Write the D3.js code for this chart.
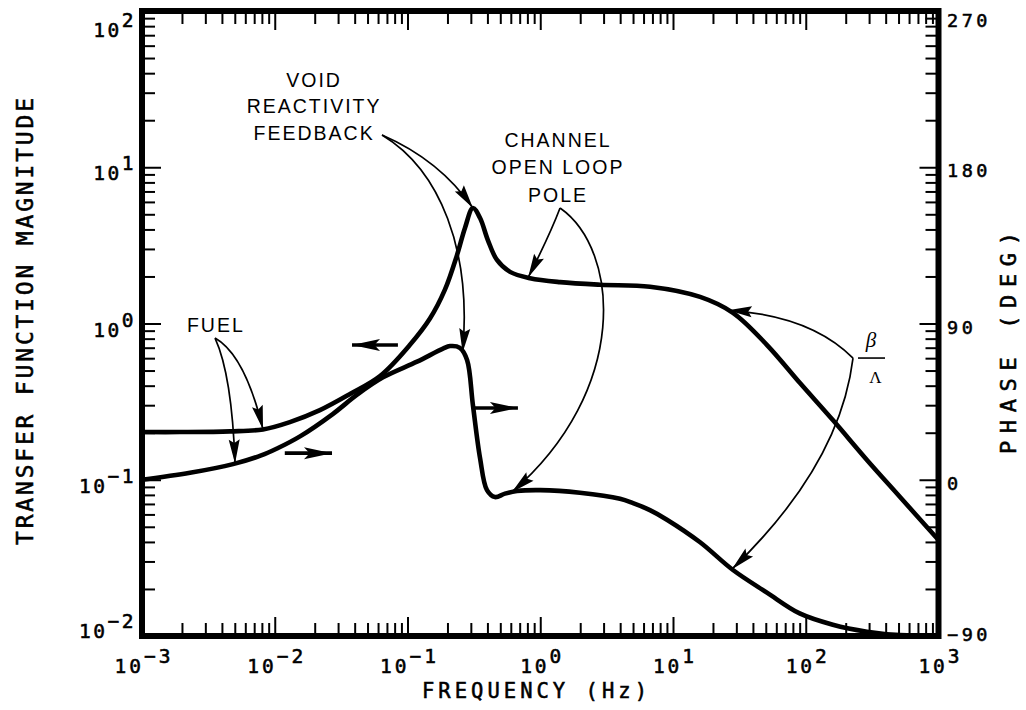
<!DOCTYPE html>
<html>
<head>
<meta charset="utf-8">
<script src="https://cdn.jsdelivr.net/npm/d3@7"></script>
<style>
  html, body { margin: 0; padding: 0; background: #fff; }
  svg { display: block; }
  .mono { font-family: "DejaVu Sans Mono", "Liberation Mono", monospace; fill: #000; stroke: #000; stroke-width: 0.55px; }
  .note { font-family: "Liberation Sans", Arial, Helvetica, sans-serif; fill: #000; letter-spacing: 2px; }
</style>
</head>
<body>
<svg id="chart" width="1026" height="710"></svg>
<script>
// Transfer function magnitude (left axis) sampled along frequency (Hz)
const magFreq  = [0.001, 0.00193, 0.0046, 0.00815, 0.013, 0.0219, 0.0369, 0.0621, 0.104, 0.148,
                  0.191, 0.236, 0.271, 0.311, 0.352, 0.403, 0.472, 0.592, 0.838, 1.41,
                  2.82, 6.71, 16.0, 28.3, 51.1, 90.5, 160, 289, 513, 1000];
const magValue = [0.202, 0.202, 0.204, 0.210, 0.234, 0.279, 0.354, 0.461, 0.728, 1.08,
                  1.64, 2.74, 4.09, 5.48, 4.73, 3.42, 2.55, 2.14, 1.95, 1.84,
                  1.77, 1.72, 1.48, 1.17, 0.728, 0.416, 0.241, 0.134, 0.0776, 0.0411];

// Phase in degrees (right axis) sampled along frequency (Hz)
const phaseFreq = [0.001, 0.0023, 0.00485, 0.0079, 0.0104, 0.0155, 0.0275, 0.0417, 0.0654, 0.118,
                   0.185, 0.209, 0.248, 0.281, 0.311, 0.352, 0.397, 0.456, 0.542, 0.668,
                   1.0, 1.99, 3.99, 5.0, 6.7, 9.0, 16, 28.3, 51, 90,
                   160, 289, 513, 1000];
const phaseDeg  = [0, 4, 9, 14, 18, 25, 38, 49, 59, 68,
                   75.5, 77, 76, 69, 43, 12.5, -6, -10, -8, -6.5,
                   -6, -7.5, -11, -13.5, -17.5, -23, -36, -52, -65, -77,
                   -83.5, -87.5, -89.5, -90];

// Axis tick labels
const freqExponents = [-3, -2, -1, 0, 1, 2, 3];
const magExponents  = [-2, -1, 0, 1, 2];
const phaseLabels   = [-90, 0, 90, 180, 270];

const svg = d3.select("#chart");
svg.append("rect").attr("width", 1026).attr("height", 710).attr("fill", "#fff");

const L = 142, R = 938.5, T = 11, B = 636;
const x = d3.scaleLog().domain([1e-3, 1e3]).range([L, R]);
const y = d3.scaleLog().domain([1e-2, 1e2]).range([B, T]);
const yPhase = d3.scaleLinear().domain([-90, 270]).range([B, T]);

const sup = e => (e < 0 ? "\u2212" + (-e) : String(e));

// log tick values: k * 10^n
function logTicks(lo, hi) {
  const out = [];
  for (let n = lo; n < hi; n++) {
    for (let k = 2; k <= 9; k++) out.push(k * Math.pow(10, n));
  }
  return out;
}
const xMinor = logTicks(-3, 3), xMajor = freqExponents.map(e => Math.pow(10, e));
const yMinor = logTicks(-2, 2), yMajor = magExponents.map(e => Math.pow(10, e));

function drawAxis(axis, transform) {
  const g = svg.append("g").attr("transform", transform).call(axis);
  g.select(".domain").remove();
  g.selectAll(".tick line").attr("stroke", "#000").attr("stroke-width", 2);
  g.selectAll(".tick text").remove();
  return g;
}
const MINOR = 13, MAJOR = 19;
// bottom and top frequency ticks
drawAxis(d3.axisBottom(x).tickValues(xMinor).tickSize(-MINOR), `translate(0,${B})`);
drawAxis(d3.axisBottom(x).tickValues(xMajor).tickSize(-MAJOR), `translate(0,${B})`);
drawAxis(d3.axisTop(x).tickValues(xMinor).tickSize(-MINOR), `translate(0,${T})`);
drawAxis(d3.axisTop(x).tickValues(xMajor).tickSize(-MAJOR), `translate(0,${T})`);
// left magnitude ticks, right phase ticks (sharing the log subdivisions)
drawAxis(d3.axisLeft(y).tickValues(yMinor).tickSize(-MINOR), `translate(${L},0)`);
drawAxis(d3.axisLeft(y).tickValues(yMajor).tickSize(-MAJOR), `translate(${L},0)`);
drawAxis(d3.axisRight(y).tickValues(yMinor).tickSize(-MINOR), `translate(${R},0)`);
drawAxis(d3.axisRight(yPhase).tickValues(phaseLabels).tickSize(-MAJOR), `translate(${R},0)`);

// heavy frame
svg.append("rect")
  .attr("x", L).attr("y", T).attr("width", R - L).attr("height", B - T)
  .attr("fill", "none").attr("stroke", "#000").attr("stroke-width", 6);

// left tick labels: 10^n
const clamp = (v, a, b) => Math.max(a, Math.min(b, v));
magExponents.forEach(e => {
  const base = clamp(y(Math.pow(10, e)) + 13, 37, 638);
  const t = svg.append("text").attr("class", "mono")
    .attr("x", 136).attr("y", base).attr("text-anchor", "end")
    .style("font-size", "19.5px").style("letter-spacing", "2.5px");
  t.append("tspan").text("10");
  t.append("tspan").attr("dy", -10).text(sup(e));
});

// bottom tick labels
freqExponents.forEach(e => {
  const t = svg.append("text").attr("class", "mono")
    .attr("x", x(Math.pow(10, e)) + 2).attr("y", 673).attr("text-anchor", "middle")
    .style("font-size", "19.5px").style("letter-spacing", "3px");
  t.append("tspan").text("10");
  t.append("tspan").attr("dy", -10).text(sup(e));
});

// right phase labels
phaseLabels.forEach(p => {
  svg.append("text").attr("class", "mono")
    .attr("x", 947).attr("y", clamp(yPhase(p) + 10, 27, 641))
    .style("font-size", "18.5px").style("letter-spacing", "3.5px")
    .text(p < 0 ? "\u2212" + (-p) : String(p));
});

// axis titles
svg.append("text").attr("class", "mono")
  .attr("transform", "translate(33,321.5) rotate(-90)")
  .attr("text-anchor", "middle").attr("textLength", 447).attr("lengthAdjust", "spacing")
  .style("font-size", "23px").text("TRANSFER FUNCTION MAGNITUDE");
svg.append("text").attr("class", "mono")
  .attr("transform", "translate(1016,343) rotate(-90)")
  .attr("text-anchor", "middle").attr("textLength", 222).attr("lengthAdjust", "spacing")
  .style("font-size", "22px").text("PHASE (DEG)");
svg.append("text").attr("class", "mono")
  .attr("x", 534.5).attr("y", 698)
  .attr("text-anchor", "middle").attr("textLength", 225).attr("lengthAdjust", "spacing")
  .style("font-size", "20.5px").text("FREQUENCY (Hz)");

// curves
const magPts = magFreq.map((f, i) => [x(f), y(magValue[i])]);
const phasePts = phaseFreq.map((f, i) => [x(f), yPhase(phaseDeg[i])]);
const line = d3.line().curve(d3.curveCatmullRom.alpha(0.5));
[magPts, phasePts].forEach(pts => {
  svg.append("path").attr("d", line(pts))
    .attr("fill", "none").attr("stroke", "#000").attr("stroke-width", 4.6)
    .attr("stroke-linejoin", "round").attr("stroke-linecap", "round");
});

// value on a sampled curve at frequency f (linear in log f)
function sample(fs, vs, f, logV) {
  const lf = Math.log10(f);
  for (let i = 0; i < fs.length - 1; i++) {
    const a = Math.log10(fs[i]), b = Math.log10(fs[i + 1]);
    if (lf >= a && lf <= b) {
      const t = (lf - a) / (b - a);
      if (logV) return Math.pow(10, Math.log10(vs[i]) + t * (Math.log10(vs[i + 1]) - Math.log10(vs[i])));
      return vs[i] + t * (vs[i + 1] - vs[i]);
    }
  }
  return vs[vs.length - 1];
}
const P = (f, m) => [x(f), y(m)];
const onCurve = (c, f) => c === "mag"
  ? [x(f), y(sample(magFreq, magValue, f, true))]
  : [x(f), yPhase(sample(phaseFreq, phaseDeg, f, false))];

function headPath(tip, from, len, half, notch) {
  const dx = tip[0] - from[0], dy = tip[1] - from[1], d = Math.hypot(dx, dy);
  const ux = dx / d, uy = dy / d, nx = -uy, ny = ux;
  const bx = tip[0] - ux * len, by = tip[1] - uy * len;
  const mx = tip[0] - ux * len * notch, my = tip[1] - uy * len * notch;
  return `M${tip[0]},${tip[1]}L${bx + nx * half},${by + ny * half}L${mx},${my}L${bx - nx * half},${by - ny * half}Z`;
}

// annotation text blocks
function noteBlock(lines, at, lead, anchor) {
  const p = P(at[0], at[1]);
  lines.forEach((s, i) => {
    svg.append("text").attr("class", "note")
      .attr("x", p[0]).attr("y", p[1] + i * lead)
      .attr("text-anchor", anchor || "middle")
      .style("font-size", "19.5px").text(s);
  });
}
noteBlock(["VOID", "REACTIVITY", "FEEDBACK"], [0.0198, 32.7], 26.5);
noteBlock(["CHANNEL", "OPEN LOOP", "POLE"], [1.36, 13.5], 27.5);
noteBlock(["FUEL"], [0.00218, 0.883], 0, "start");

// beta / Lambda fraction
const bl = P(227, 0.601);
svg.append("text").attr("x", bl[0] + 18).attr("y", bl[1] - 11).attr("text-anchor", "middle")
  .style("font-family", "'Liberation Serif', 'DejaVu Serif', serif").style("font-style", "italic")
  .style("font-size", "21px").text("\u03B2");
svg.append("line").attr("x1", bl[0] + 5).attr("x2", bl[0] + 32).attr("y1", bl[1]).attr("y2", bl[1])
  .attr("stroke", "#000").attr("stroke-width", 1.6);
svg.append("text").attr("x", bl[0] + 22.5).attr("y", bl[1] + 25).attr("text-anchor", "middle")
  .style("font-family", "'Liberation Serif', 'DejaVu Serif', serif")
  .style("font-size", "17px").text("\u039B");

// leader arrows from labels to curves
const leaders = [
  { from: [0.0643, 16.1], c: [[0.176, 11.1]], to: ["mag", 0.311] },
  { from: [0.0643, 16.1], c: [[0.176, 9.6], [0.306, 2.95]], to: ["phase", 0.26] },
  { from: [1.41, 5.48], c: [[1.18, 3.68]], to: ["mag", 0.81] },
  { from: [1.41, 5.48], c: [[3.99, 2.95], [4.74, 0.375]], to: ["phase", 0.61] },
  { from: [227, 0.601], c: [[108, 1.13]], to: ["mag", 25.9] },
  { from: [227, 0.601], c: [[181, 0.124]], to: ["phase", 27.8] },
  { from: [0.00355, 0.807], c: [[0.00597, 0.628]], to: ["mag", 0.00816] },
  { from: [0.00355, 0.807], c: [[0.00476, 0.468]], to: ["phase", 0.00502] }
];
leaders.forEach(ld => {
  const s = P(ld.from[0], ld.from[1]);
  const cs = ld.c.map(c => P(c[0], c[1]));
  const tip = onCurve(ld.to[0], ld.to[1]);
  const cmd = cs.length === 1 ? "Q" : "C";
  svg.append("path")
    .attr("d", `M${s[0]},${s[1]}${cmd}${cs.map(c => c.join(",")).join(" ")} ${tip[0]},${tip[1]}`)
    .attr("fill", "none").attr("stroke", "#000").attr("stroke-width", 1.7);
  svg.append("path").attr("d", headPath(tip, cs[cs.length - 1], 24, 5.5, 0.85)).attr("fill", "#000");
});

// heavy pointers showing which axis each curve reads against
const pointers = [
  { tail: [0.0847, 0.728], tip: [0.0382, 0.728] },
  { tail: [0.322, 0.288], tip: [0.679, 0.288] },
  { tail: [0.0119, 0.148], tip: [0.027, 0.148] }
];
pointers.forEach(pt => {
  const a = P(pt.tail[0], pt.tail[1]), b = P(pt.tip[0], pt.tip[1]);
  svg.append("line").attr("x1", a[0]).attr("y1", a[1]).attr("x2", b[0]).attr("y2", b[1])
    .attr("stroke", "#000").attr("stroke-width", 3.6);
  svg.append("path").attr("d", headPath(b, a, 28, 6, 0.8)).attr("fill", "#000");
});
</script>
</body>
</html>
